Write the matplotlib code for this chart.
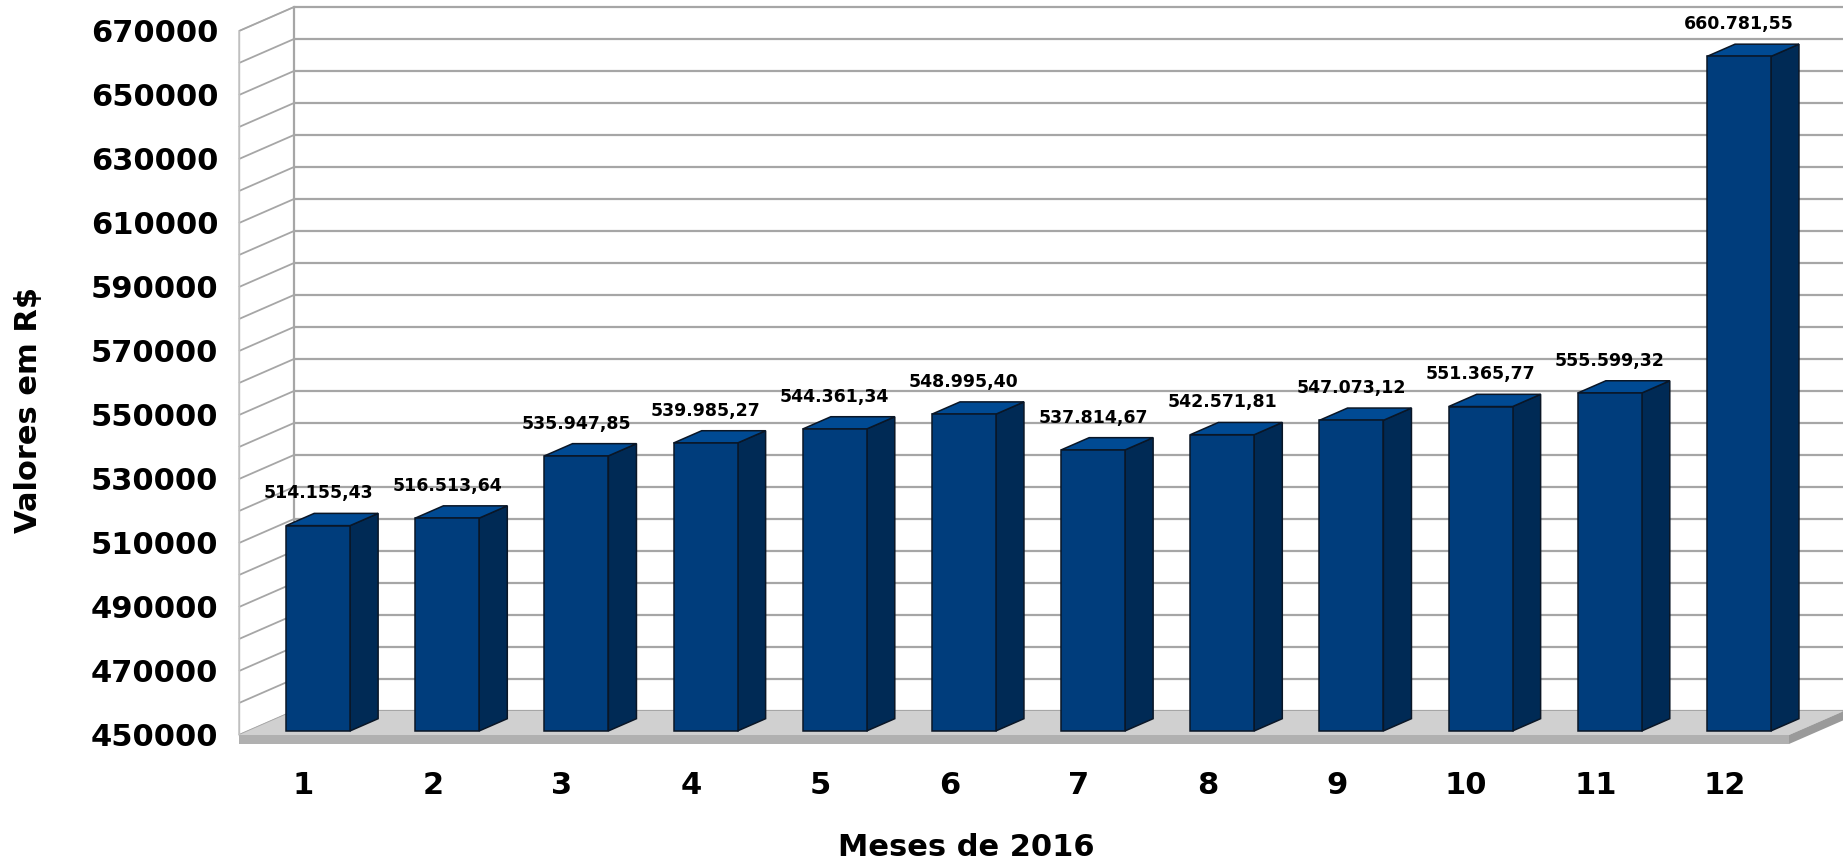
import matplotlib
matplotlib.use("Agg")
import matplotlib.pyplot as plt
from matplotlib.patches import Polygon


MONTHS = list(range(1, 13))
VALUES = [514155.43, 516513.64, 535947.85, 539985.27, 544361.34, 548995.40,
          537814.67, 542571.81, 547073.12, 551365.77, 555599.32, 660781.55]
Y_TICKS = list(range(450000, 670001, 20000))
GRID_STEP = 10000
Y_MIN, Y_MAX = 450000, 670000

X_TITLE = "Meses de 2016"
Y_TITLE = "Valores em R$"

FRONT_COLOR = "#003d7c"
SIDE_COLOR = "#002a55"
TOP_COLOR = "#004a93"
EDGE_COLOR = "#0a1626"
GRID_COLOR = "#a6a6a6"
FLOOR_TOP = "#d0d0d0"
FLOOR_FRONT = "#b0b0b0"
FLOOR_SIDE = "#9a9a9a"

# figure size in pixels and front-plane box (pixels from top-left)
W, H = 1843, 864
LEFT_PX, RIGHT_PX, TOP_PX, BOTTOM_PX = 239, 1789, 31, 735


def fmt_brl(v):
    s = f"{v:,.2f}"
    return s.replace(",", "X").replace(".", ",").replace("X", ".")


def poly(ax, pts, fc, ec="none", lw=0.0, z=1):
    ax.add_patch(Polygon(pts, closed=True, facecolor=fc, edgecolor=ec,
                         linewidth=lw, zorder=z, clip_on=False,
                         joinstyle="miter"))


def main():
    fig = plt.figure(figsize=(W / 100, H / 100), dpi=100)
    ax = fig.add_axes([LEFT_PX / W, (H - BOTTOM_PX) / H,
                       (RIGHT_PX - LEFT_PX) / W, (BOTTOM_PX - TOP_PX) / H])
    n = len(MONTHS)
    ax.set_xlim(0.5, n + 0.5)
    ax.set_ylim(Y_MIN, Y_MAX)
    ax.patch.set_alpha(0)
    for s in ax.spines.values():
        s.set_visible(False)

    px_per_cat = (RIGHT_PX - LEFT_PX) / n
    val_per_px = (Y_MAX - Y_MIN) / (BOTTOM_PX - TOP_PX)
    DX = 55 / px_per_cat          # depth offset, category units
    DY = 24 * val_per_px          # depth offset, value units
    FT = 9 * val_per_px           # floor thickness

    x0, x1 = 0.5, n + 0.5

    # side wall (left) and back wall grid
    poly(ax, [(x0, Y_MIN), (x0 + DX, Y_MIN + DY), (x0 + DX, Y_MAX + DY), (x0, Y_MAX)],
         "white", ec="#c0c0c0", lw=1.0, z=0)
    grid_vals = list(range(Y_MIN, Y_MAX + 1, GRID_STEP))
    for v in grid_vals:
        ax.plot([x0, x0 + DX], [v, v + DY], color=GRID_COLOR, lw=1.3,
                zorder=1, clip_on=False, solid_capstyle="butt")
        ax.plot([x0 + DX, x1 + DX], [v + DY, v + DY], color=GRID_COLOR, lw=1.6,
                zorder=1, clip_on=False, solid_capstyle="butt")
    ax.plot([x0 + DX, x0 + DX], [Y_MIN + DY, Y_MAX + DY], color=GRID_COLOR,
            lw=1.6, zorder=1, clip_on=False)
    ax.plot([x0, x0], [Y_MIN, Y_MAX], color="#c0c0c0", lw=1.0, zorder=1,
            clip_on=False)

    # floor
    poly(ax, [(x0, Y_MIN), (x1, Y_MIN), (x1 + DX, Y_MIN + DY), (x0 + DX, Y_MIN + DY)],
         FLOOR_TOP, z=2)
    poly(ax, [(x0, Y_MIN), (x1, Y_MIN), (x1, Y_MIN - FT), (x0, Y_MIN - FT)],
         FLOOR_FRONT, z=2)
    poly(ax, [(x1, Y_MIN), (x1 + DX, Y_MIN + DY), (x1 + DX, Y_MIN + DY - FT), (x1, Y_MIN - FT)],
         FLOOR_SIDE, z=2)

    # bars
    d0, d1 = 0.17, 0.68
    width, shift = 0.495, 0.04
    for m, v in zip(MONTHS, VALUES):
        left = m + shift - width / 2 + d0 * DX
        right = left + width
        base = Y_MIN + d0 * DY
        top = v + d0 * DY
        ddx, ddy = (d1 - d0) * DX, (d1 - d0) * DY
        poly(ax, [(right, base), (right + ddx, base + ddy), (right + ddx, top + ddy), (right, top)],
             SIDE_COLOR, ec=EDGE_COLOR, lw=1.1, z=3)
        poly(ax, [(left, top), (right, top), (right + ddx, top + ddy), (left + ddx, top + ddy)],
             TOP_COLOR, ec=EDGE_COLOR, lw=1.1, z=3)
        poly(ax, [(left, base), (right, base), (right, top), (left, top)],
             FRONT_COLOR, ec=EDGE_COLOR, lw=1.1, z=4)
        ax.annotate(fmt_brl(v), xy=((left + right) / 2, v + d1 * DY),
                    xytext=(0, 14.4), textcoords="offset points",
                    ha="center", va="center", fontsize=12.5, fontweight="bold",
                    color="black", zorder=5, annotation_clip=False)

    ax.set_xticks(MONTHS)
    ax.set_xticklabels([str(m) for m in MONTHS], fontsize=22, fontweight="bold")
    ax.tick_params(axis="x", length=0, pad=26)
    ax.set_yticks(Y_TICKS)
    ax.set_yticklabels([str(t) for t in Y_TICKS], fontsize=22, fontweight="bold")
    ax.tick_params(axis="y", length=0, pad=15)

    fig.text(29 / W, (H - 410) / H, Y_TITLE, rotation=90, ha="center",
             va="center", fontsize=22, fontweight="bold")
    fig.text(966 / W, (H - 847) / H, X_TITLE, ha="center", va="center",
             fontsize=22, fontweight="bold")

    fig.savefig("out.png", dpi=100)
    plt.close(fig)


if __name__ == "__main__":
    main()
